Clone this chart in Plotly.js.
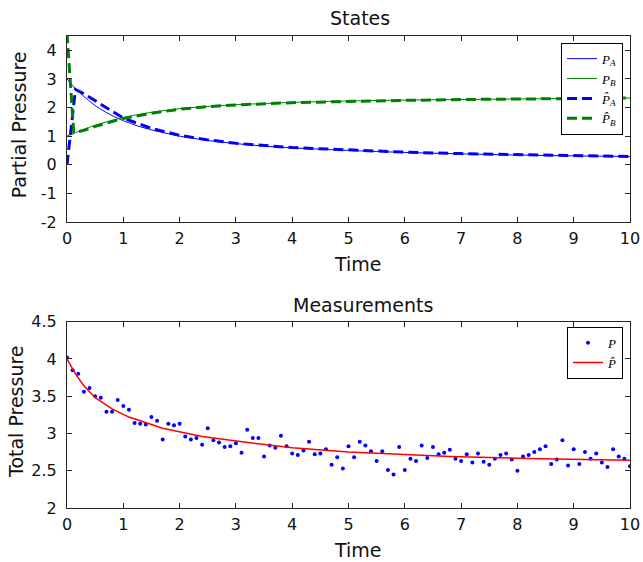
<!DOCTYPE html>
<html>
<head>
<meta charset="utf-8">
<script src="https://cdn.plot.ly/plotly-3.0.1.min.js"></script>
<style>
html,body{margin:0;padding:0;background:#fff;}
#chart{width:643px;height:562px;}
</style>
</head>
<body>
<div id="chart"></div>
<script>
// ---- States (top panel) ----
var tA = [0, 0.1, 0.2, 0.3, 0.4, 0.5, 0.6, 0.8, 1, 1.25, 1.5, 2, 2.5, 3, 3.5, 4, 5, 6, 7, 8, 9, 10];
var pA = [3.0, 2.77, 2.57, 2.39, 2.22, 2.07, 1.94, 1.72, 1.54, 1.36, 1.22, 1.0, 0.85, 0.74, 0.65, 0.59, 0.5, 0.43, 0.38, 0.34, 0.31, 0.29];
var pB = [1.0, 1.08, 1.16, 1.24, 1.31, 1.38, 1.44, 1.55, 1.65, 1.75, 1.83, 1.96, 2.04, 2.1, 2.14, 2.18, 2.23, 2.26, 2.28, 2.3, 2.32, 2.33];

var tEstA = [0, 0.15, 0.3, 0.5, 0.8, 1, 1.5, 2, 2.5, 3, 4, 5, 6, 7, 8, 9, 10];
var pAhat = [0, 2.63, 2.48, 2.24, 1.86, 1.63, 1.27, 1.03, 0.87, 0.75, 0.6, 0.51, 0.44, 0.39, 0.35, 0.32, 0.29];
var tEstB = [0, 0.12, 0.3, 0.5, 0.8, 1, 1.5, 2, 2.5, 3, 4, 5, 6, 7, 8, 9, 10];
var pBhat = [4.6, 1.12, 1.2, 1.34, 1.51, 1.62, 1.8, 1.94, 2.03, 2.09, 2.17, 2.22, 2.25, 2.28, 2.3, 2.32, 2.33];

var statesTickVals = [-2, -1, 0, 1, 2, 3, 4];
var statesTickText = ['-2', '-1', '0', '1', '2', '3', '4'];

// ---- Measurements (bottom panel) ----
var tMeas = [0,0.1,0.2,0.3,0.4,0.5,0.6,0.7,0.8,0.9,1,1.1,1.2,1.3,1.4,1.5,1.6,1.7,1.8,1.9,
  2,2.1,2.2,2.3,2.4,2.5,2.6,2.7,2.8,2.9,3,3.1,3.2,3.3,3.4,3.5,3.6,3.7,3.8,3.9,
  4,4.1,4.2,4.3,4.4,4.5,4.6,4.7,4.8,4.9,5,5.1,5.2,5.3,5.4,5.5,5.6,5.7,5.8,5.9,
  6,6.1,6.2,6.3,6.4,6.5,6.6,6.7,6.8,6.9,7,7.1,7.2,7.3,7.4,7.5,7.6,7.7,7.8,7.9,
  8,8.1,8.2,8.3,8.4,8.5,8.6,8.7,8.8,8.9,9,9.1,9.2,9.3,9.4,9.5,9.6,9.7,9.8,9.9,10];
var pMeas = [4.02,3.85,3.80,3.56,3.61,3.50,3.48,3.29,3.29,3.45,3.37,3.32,3.14,3.13,3.12,3.22,3.17,2.92,3.13,3.11,
  3.13,2.96,2.92,2.94,2.85,3.07,2.91,2.88,2.82,2.83,2.87,2.74,3.05,2.94,2.94,2.69,2.84,2.81,2.97,2.83,
  2.73,2.71,2.77,2.89,2.72,2.73,2.79,2.58,2.68,2.53,2.83,2.68,2.89,2.84,2.76,2.63,2.76,2.51,2.45,2.82,
  2.51,2.66,2.63,2.84,2.67,2.82,2.72,2.74,2.78,2.66,2.63,2.72,2.61,2.73,2.62,2.58,2.66,2.71,2.73,2.65,
  2.50,2.69,2.71,2.75,2.79,2.83,2.59,2.65,2.91,2.57,2.79,2.59,2.75,2.66,2.73,2.61,2.55,2.79,2.69,2.66,2.56];
var tHat = [0, 0.15, 0.3, 0.5, 0.8, 1.1, 1.7, 2.4, 3.25, 4, 5, 6, 6.8, 8.4, 10];
var pHat = [4.0, 3.8, 3.64, 3.48, 3.33, 3.22, 3.07, 2.96, 2.875, 2.81, 2.75, 2.72, 2.69, 2.66, 2.64];

var blue = '#0000ff', green = '#008000', red = '#ff0000', axc = '#262626';
var serif = 'Liberation Serif, DejaVu Serif, serif';
var sans = 'DejaVu Sans, Liberation Sans, Arial, sans-serif';

var traces = [
  {x: tA, y: pA, xaxis: 'x', yaxis: 'y', mode: 'lines', name: '<i>P</i><sub><i>A</i></sub>',
   line: {color: blue, width: 1, shape: 'spline', smoothing: 0.6}, legend: 'legend'},
  {x: tA, y: pB, xaxis: 'x', yaxis: 'y', mode: 'lines', name: '<i>P</i><sub><i>B</i></sub>',
   line: {color: green, width: 1, shape: 'spline', smoothing: 0.6}, legend: 'legend'},
  {x: tEstA, y: pAhat, xaxis: 'x', yaxis: 'y', mode: 'lines', name: '<i>P\u0302</i><sub><i>A</i></sub>',
   line: {color: blue, width: 3, dash: '10px,5px'}, legend: 'legend'},
  {x: tEstB, y: pBhat, xaxis: 'x', yaxis: 'y', mode: 'lines', name: '<i>P\u0302</i><sub><i>B</i></sub>',
   line: {color: green, width: 3, dash: '10px,5px'}, legend: 'legend'},
  {x: tMeas, y: pMeas, xaxis: 'x2', yaxis: 'y2', mode: 'markers', name: '<i>P</i>',
   marker: {color: blue, size: 4}, legend: 'legend2'},
  {x: tHat, y: pHat, xaxis: 'x2', yaxis: 'y2', mode: 'lines', name: '<i>P\u0302</i>',
   line: {color: red, width: 1.5}, legend: 'legend2'}
];

var axBase = {
  showline: true, linecolor: axc, linewidth: 1, mirror: 'ticks',
  ticks: 'inside', ticklen: 5, tickcolor: axc, tickwidth: 1,
  showgrid: false, zeroline: false,
  tickfont: {family: sans, size: 16, color: '#111'}
};
function ax(extra){ var o = {}; for (var k in axBase) o[k] = axBase[k]; for (var k2 in extra) o[k2] = extra[k2]; return o; }

var layout = {
  width: 643, height: 562,
  margin: {l: 67, r: 13, t: 36, b: 54},
  paper_bgcolor: '#fff', plot_bgcolor: '#fff',
  font: {family: sans, color: '#111'},
  xaxis: ax({domain: [0, 1], anchor: 'y', range: [0, 10], dtick: 1, tick0: 0, ticklabelstandoff: 2}),
  yaxis: ax({domain: [0.606, 1], anchor: 'x', range: [-2, 4.5], tickmode: 'array',
             tickvals: statesTickVals, ticktext: statesTickText, ticklabelstandoff: 6}),
  xaxis2: ax({domain: [0, 1], anchor: 'y2', range: [0, 10], dtick: 1, tick0: 0, ticklabelstandoff: 2}),
  yaxis2: ax({domain: [0, 0.3947], anchor: 'x2', range: [2, 4.5], dtick: 0.5, tick0: 2, ticklabelstandoff: 6}),
  showlegend: true,
  legend: {x: 0.9876, xanchor: 'right', y: 0.9858, yanchor: 'top', bgcolor: '#fff',
           bordercolor: '#000', borderwidth: 1, font: {family: serif, size: 13, color: '#000'},
           itemwidth: 30, tracegroupgap: 0},
  legend2: {x: 0.9876, xanchor: 'right', y: 0.384, yanchor: 'top', bgcolor: '#fff',
            bordercolor: '#000', borderwidth: 1, font: {family: serif, size: 13, color: '#000'},
            itemwidth: 30},
  annotations: [
    {text: 'States', xref: 'paper', yref: 'paper', x: 0.52, y: 1.038, xanchor: 'center', yanchor: 'middle',
     showarrow: false, font: {family: sans, size: 19, color: '#111'}},
    {text: 'Measurements', xref: 'paper', yref: 'paper', x: 0.526, y: 0.430, xanchor: 'center', yanchor: 'middle',
     showarrow: false, font: {family: sans, size: 19, color: '#111'}},
    {text: 'Time', xref: 'paper', yref: 'paper', x: 0.517, y: 0.517, xanchor: 'center', yanchor: 'middle',
     showarrow: false, font: {family: sans, size: 19, color: '#111'}},
    {text: 'Time', xref: 'paper', yref: 'paper', x: 0.517, y: -0.089, xanchor: 'center', yanchor: 'middle',
     showarrow: false, font: {family: sans, size: 19, color: '#111'}},
    {text: 'Partial Pressure', xref: 'paper', yref: 'paper', x: -0.085, y: 0.811, xanchor: 'center', yanchor: 'middle',
     textangle: -90, showarrow: false, font: {family: sans, size: 19, color: '#111'}},
    {text: 'Total Pressure', xref: 'paper', yref: 'paper', x: -0.0906, y: 0.2055, xanchor: 'center', yanchor: 'middle',
     textangle: -90, showarrow: false, font: {family: sans, size: 19, color: '#111'}}
  ]
};

Plotly.newPlot('chart', traces, layout, {staticPlot: true, displayModeBar: false});
</script>
</body>
</html>
